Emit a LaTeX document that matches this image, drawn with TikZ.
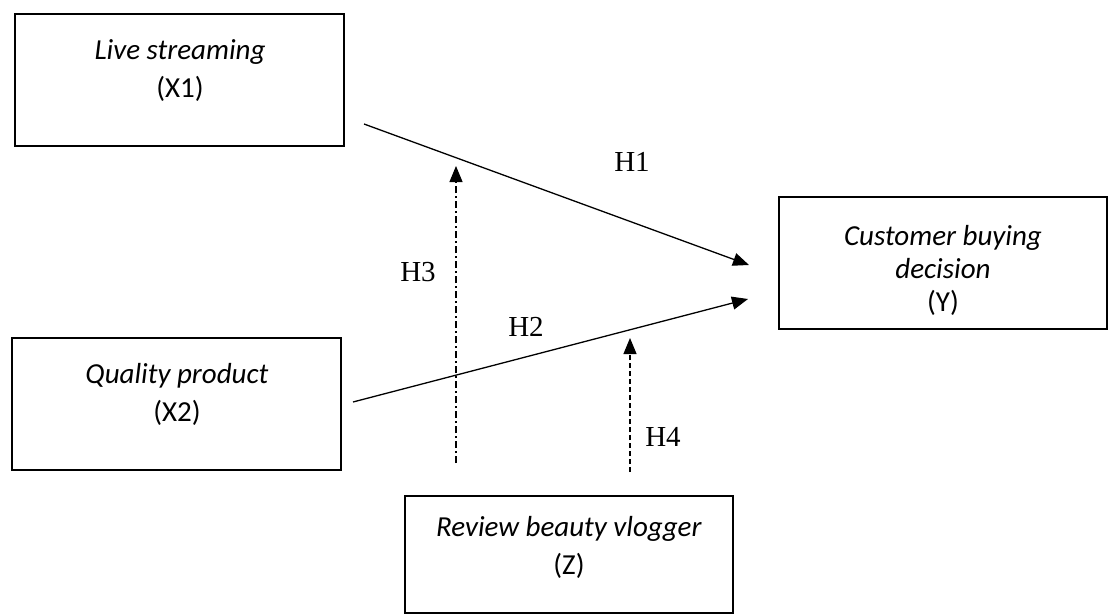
\documentclass[tikz,border=0pt]{standalone}
\usepackage{fontspec}
\setmainfont{Carlito}
\newfontfamily\hfont{Liberation Serif}
\usetikzlibrary{arrows.meta}
\begin{document}
\begin{tikzpicture}[x=1pt,y=-1pt,
  box/.style={draw=black,line width=2pt,rectangle,inner sep=0pt},
  txt/.style={align=center,inner sep=0pt,font=\fontsize{29}{38}\selectfont},
  hyp/.style={inner sep=0pt,font=\hfont\fontsize{29}{33}\selectfont},
  conn/.style={line width=1.3pt,-{Triangle[length=16pt,width=13pt]}},
  plain/.style={line width=1.3pt}]
\useasboundingbox (0,0) rectangle (1111,615);
\fill[white] (0,0) rectangle (1111,615);
% boxes
\draw[box] (15,14) rectangle (344,146);
\node[txt] (x1) at (180,71) {\textit{Live streaming}\\(X1)};
\draw[box] (12,338) rectangle (341,470);
\node[txt] (x2) at (177,394) {\textit{Quality product}\\(X2)};
\draw[box] (779,197) rectangle (1107,329);
\node[txt,font=\fontsize{29}{33}\selectfont] (y) at (943,270) {\textit{Customer buying}\\\textit{decision}\\(Y)};
\draw[box] (405,496) rectangle (733,613);
\node[txt] (z) at (569,547) {\textit{Review beauty vlogger}\\(Z)};
% connector ends
\coordinate (h1s) at (364,124);
\coordinate (h1e) at (749,265);
\coordinate (h2s) at (353,402);
\coordinate (h2e) at (748,299);
\coordinate (h3s) at (456,463);
\coordinate (h3e) at (456,166);
\coordinate (h4s) at (630,472);
\coordinate (h4e) at (630,338);
\draw[conn] (h1s) -- (h1e);
\draw[conn] (h2s) -- (h2e);
\draw[conn,line width=1.1pt,dash pattern=on 7pt off 3pt on 2pt off 3pt] (h3s) -- (h3e);
\draw[conn,line width=1.1pt,dash pattern=on 5pt off 3pt] (h4s) -- (h4e);
% labels
\node[hyp] (l1) at (632,162) {H1};
\node[hyp] (l2) at (526,327) {H2};
\node[hyp] (l3) at (418,272) {H3};
\node[hyp] (l4) at (663,437) {H4};
\end{tikzpicture}
\end{document}
